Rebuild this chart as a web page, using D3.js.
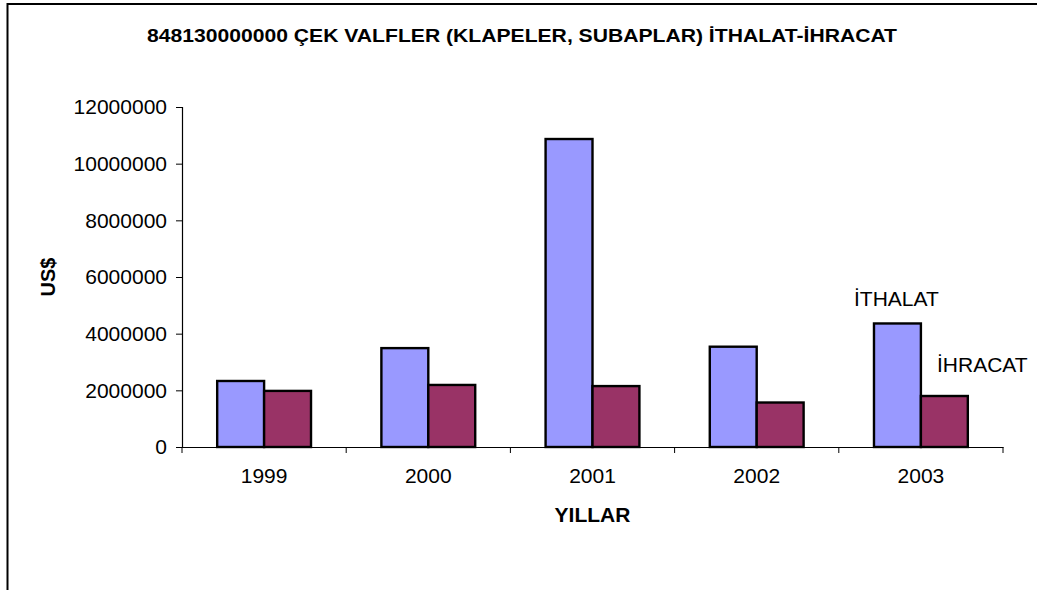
<!DOCTYPE html>
<html>
<head>
<meta charset="utf-8">
<script src="https://cdn.jsdelivr.net/npm/d3@7"></script>
<style>
  body { margin: 0; background: #fff; }
  svg { display: block; font-family: Arial, "Liberation Sans", sans-serif; }
</style>
</head>
<body>
<svg id="chart" width="1037" height="590"></svg>
<script>
const years = ['1999', '2000', '2001', '2002', '2003'];
const seriesNames = ['İTHALAT', 'İHRACAT'];
const ithalat = [2330000, 3490000, 10870000, 3540000, 4360000];
const ihracat = [1980000, 2190000, 2150000, 1570000, 1800000];
const yTicks = [0, 2000000, 4000000, 6000000, 8000000, 10000000, 12000000];
const colors = ['#9999ff', '#993366'];

const svg = d3.select('#chart');

// Chart area border
svg.append('rect')
  .attr('x', 7.5).attr('y', 4)
  .attr('width', 1040).attr('height', 600)
  .attr('fill', '#fff')
  .attr('stroke', '#000')
  .attr('stroke-width', 2);

const plot = { left: 182, right: 1003, top: 107, bottom: 447 };

const x = d3.scaleBand()
  .domain(years)
  .range([plot.left, plot.right]);

// Excel gap width 150%: two bars + 1.5 bar widths of gap per category
const gap = x.bandwidth() * 1.5 / 3.5;
const x1 = d3.scaleBand()
  .domain(seriesNames)
  .range([gap / 2, x.bandwidth() - gap / 2]);

const y = d3.scaleLinear()
  .domain([0, 12000000])
  .range([plot.bottom, plot.top]);

const data = years.map((yr, i) => ({
  year: yr,
  values: [
    { name: seriesNames[0], value: ithalat[i], color: colors[0] },
    { name: seriesNames[1], value: ihracat[i], color: colors[1] }
  ]
}));

// Bars
const groups = svg.selectAll('g.year')
  .data(data)
  .enter()
  .append('g')
  .attr('class', 'year')
  .attr('transform', d => `translate(${x(d.year)},0)`);

groups.selectAll('rect')
  .data(d => d.values)
  .enter()
  .append('rect')
  .attr('x', d => x1(d.name))
  .attr('y', d => y(d.value))
  .attr('width', x1.bandwidth())
  .attr('height', d => y(0) - y(d.value))
  .attr('fill', d => d.color)
  .attr('stroke', '#000')
  .attr('stroke-width', 2.4);

// Y axis
svg.append('g')
  .attr('transform', `translate(${plot.left},0)`)
  .call(d3.axisLeft(y).tickValues(yTicks).tickFormat(d3.format('d')).tickSizeOuter(0).tickSize(6).tickPadding(9));

// X axis
const xAxis = svg.append('g')
  .attr('transform', `translate(0,${plot.bottom})`)
  .call(d3.axisBottom(x).tickSize(0).tickPadding(21));

// X axis tick marks at category boundaries
xAxis.selectAll('line.sep')
  .data(years.concat(['end']))
  .enter()
  .append('line')
  .attr('class', 'sep')
  .attr('x1', (d, i) => plot.left + i * x.step())
  .attr('x2', (d, i) => plot.left + i * x.step())
  .attr('y1', 0)
  .attr('y2', 6)
  .attr('stroke', '#000');

svg.selectAll('.domain').attr('stroke', '#000').attr('stroke-width', 1.2);
svg.selectAll('.tick line').attr('stroke', '#000');
svg.selectAll('.tick text')
  .attr('font-family', 'Arial, "Liberation Sans", sans-serif')
  .attr('font-size', 21)
  .attr('fill', '#000');

// Title
svg.append('text')
  .attr('x', 147)
  .attr('y', 42)
  .attr('font-size', 19)
  .attr('font-weight', 'bold')
  .attr('textLength', 750)
  .attr('lengthAdjust', 'spacingAndGlyphs')
  .text('848130000000 ÇEK VALFLER (KLAPELER, SUBAPLAR) İTHALAT-İHRACAT');

// Axis titles
svg.append('text')
  .attr('transform', 'translate(55,277) rotate(-90)')
  .attr('text-anchor', 'middle')
  .attr('font-size', 20)
  .attr('font-weight', 'bold')
  .text('US$');

svg.append('text')
  .attr('x', (plot.left + plot.right) / 2)
  .attr('y', 522)
  .attr('text-anchor', 'middle')
  .attr('font-size', 21)
  .attr('font-weight', 'bold')
  .text('YILLAR');

// Series labels
svg.append('text')
  .attr('x', 854)
  .attr('y', 306)
  .attr('font-size', 21)
  .text(seriesNames[0]);

svg.append('text')
  .attr('x', 937)
  .attr('y', 372)
  .attr('font-size', 21)
  .text(seriesNames[1]);
</script>
</body>
</html>
